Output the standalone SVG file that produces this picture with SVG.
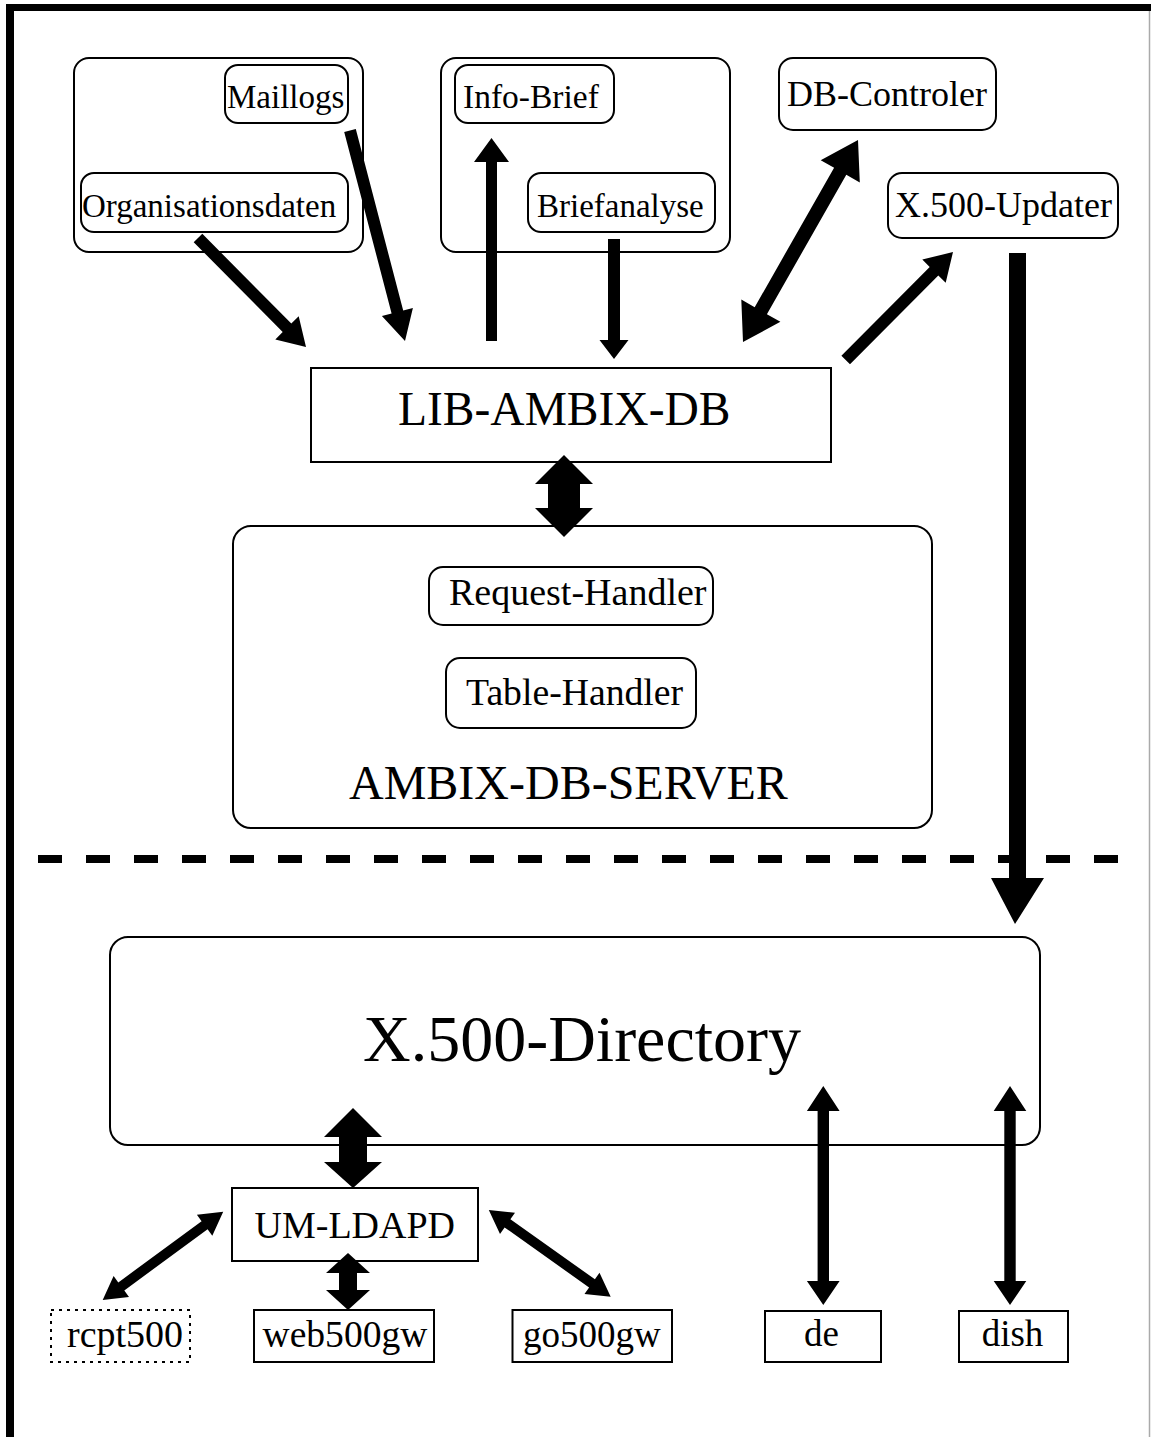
<svg xmlns="http://www.w3.org/2000/svg" width="1151" height="1437" viewBox="0 0 1151 1437">
<style>
  .box{fill:#fff;stroke:#000;stroke-width:2}
  .grp{fill:none;stroke:#000;stroke-width:2}
  .dot{fill:#fff;stroke:#000;stroke-width:2;stroke-dasharray:3 5}
  .t{font-family:"Liberation Serif","Times New Roman",serif;fill:#000}
  .arr{fill:#000;stroke:none}
</style>
<rect x="0" y="0" width="1151" height="1437" fill="#fff"/>
<g id="frame">
  <rect x="6" y="4" width="1145" height="7" fill="#000"/>
  <rect x="6" y="4" width="8" height="1433" fill="#000"/>
  <line x1="1149.5" y1="11" x2="1149.5" y2="1437" stroke="#aaa" stroke-width="1.5"/>
  <line x1="38" y1="859" x2="1120" y2="859" stroke="#000" stroke-width="8" stroke-dasharray="24 24"/>
</g>
<g id="group-logs"><rect class="grp" x="74" y="58" width="289" height="194" rx="15"/></g>
<g id="node-maillogs"><rect class="box" x="225" y="65" width="123" height="58" rx="13"/><text class="t" x="227" y="108" font-size="33">Maillogs</text></g>
<g id="node-organisationsdaten"><rect class="box" x="81" y="173" width="267" height="59" rx="13"/><text class="t" x="82" y="217" font-size="33">Organisationsdaten</text></g>
<g id="group-brief"><rect class="grp" x="441" y="58" width="289" height="194" rx="15"/></g>
<g id="node-infobrief"><rect class="box" x="455" y="65" width="159" height="58" rx="13"/><text class="t" x="463" y="108" font-size="33.5">Info-Brief</text></g>
<g id="node-briefanalyse"><rect class="box" x="528" y="173" width="187" height="59" rx="13"/><text class="t" x="537" y="217" font-size="33">Briefanalyse</text></g>
<g id="node-dbcontroler"><rect class="box" x="779" y="58" width="217" height="72" rx="14"/><text class="t" x="787" y="106" font-size="36">DB-Controler</text></g>
<g id="node-x500updater"><rect class="box" x="888" y="173" width="230" height="65" rx="14"/><text class="t" x="895" y="217" font-size="36">X.500-Updater</text></g>
<g id="node-libambixdb"><rect class="box" x="311" y="368" width="520" height="94"/><text class="t" x="398" y="425" font-size="47.5">LIB-AMBIX-DB</text></g>
<g id="node-server"><rect class="box" x="233" y="526" width="699" height="302" rx="18"/><text class="t" x="349" y="799" font-size="48">AMBIX-DB-SERVER</text></g>
<g id="node-requesthandler"><rect class="box" x="429" y="567" width="284" height="58" rx="14"/><text class="t" x="449" y="605" font-size="38">Request-Handler</text></g>
<g id="node-tablehandler"><rect class="box" x="446" y="658" width="250" height="70" rx="14"/><text class="t" x="466" y="705" font-size="37.7">Table-Handler</text></g>
<g id="node-directory"><rect class="box" x="110" y="937" width="930" height="208" rx="18"/><text class="t" x="363" y="1061" font-size="66">X.500-Directory</text></g>
<g id="node-umldapd"><rect class="box" x="232" y="1188" width="246" height="73"/><text class="t" x="254.5" y="1238" font-size="38">UM-LDAPD</text></g>
<g id="node-rcpt500"><rect class="dot" x="51" y="1310" width="139" height="52"/><text class="t" x="67" y="1347" font-size="38">rcpt500</text></g>
<g id="node-web500gw"><rect class="box" x="254" y="1310" width="180" height="52"/><text class="t" x="262.5" y="1347" font-size="37.6">web500gw</text></g>
<g id="node-go500gw"><rect class="box" x="512.5" y="1310" width="159.5" height="52"/><text class="t" x="523" y="1347" font-size="37">go500gw</text></g>
<g id="node-de"><rect class="box" x="765" y="1311" width="116" height="51"/><text class="t" x="804" y="1346" font-size="37">de</text></g>
<g id="node-dish"><rect class="box" x="959" y="1311" width="109" height="51"/><text class="t" x="981.7" y="1346" font-size="37">dish</text></g>
<g id="connectors">
  <polygon class="arr" points="202.3,233.8 291.3,323.6 298.7,316.2 306,347 275.3,339.4 282.7,332 193.7,242.2"/>
  <polygon class="arr" points="355.8,129 403.2,310.5 412.9,308 405,341 381.9,316 391.6,313.5 344.2,132"/>
  <polygon class="arr" points="486,341 486,162 474,162 491.5,138 509,162 497,162 497,341"/>
  <polygon class="arr" points="608,239 608,340 599.5,340 614,359 628.5,340 620,340 620,239"/>
  <polygon class="arr" points="858,140 859.8,182.4 846.3,174.8 766.9,314.2 780.4,321.8 743,342 741.3,299.6 754.7,307.2 834.1,167.8 820.7,160.2"/>
  <polygon class="arr" points="841.4,355.8 929.7,267 922.3,259.6 953,252 945.7,282.8 938.3,275.4 850,364.2"/>
  <polygon class="arr" points="1009,253 1009,878 991,878 1015,924 1044,878 1026,878 1026,253"/>
  <polygon class="arr" points="564,455 593,484 580,484 580,508 593,508 564,537 535,508 548,508 548,484 535,484"/>
  <polygon class="arr" points="353,1108 382,1137 367,1137 367,1162 382,1162 353,1188 324,1162 339,1162 339,1137 324,1137"/>
  <polygon class="arr" points="348,1253 370,1273 357,1273 357,1290 370,1290 348,1310 326,1290 339,1290 339,1273 326,1273"/>
  <polygon class="arr" points="223.2,1211.7 212.3,1235.8 207.6,1229.3 124.3,1290.4 129,1296.9 102.7,1300 113.6,1275.9 118.3,1282.4 201.6,1221.3 196.9,1214.8"/>
  <polygon class="arr" points="488.8,1210 515,1212.7 510.4,1219.2 594.9,1279.3 599.5,1272.8 610.7,1296.7 584.5,1294 589.1,1287.5 504.6,1227.4 500,1233.9"/>
  <polygon class="arr" points="823.3,1086 839.6,1111 829,1111 829,1281 839.6,1281 823.3,1305 806.9,1281 817.6,1281 817.6,1111 806.9,1111"/>
  <polygon class="arr" points="1010,1086 1026.3,1111 1015.7,1111 1015.7,1281 1026.3,1281 1010,1305 993.7,1281 1004.3,1281 1004.3,1111 993.7,1111"/>
</g>
</svg>
